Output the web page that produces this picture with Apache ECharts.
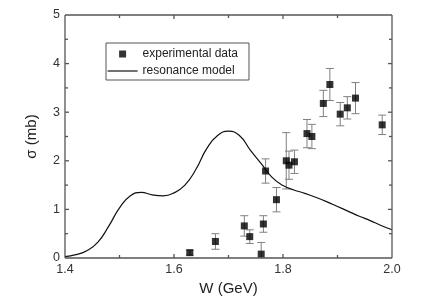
<!DOCTYPE html>
<html>
<head>
<meta charset="utf-8">
<script src="https://cdn.jsdelivr.net/npm/echarts@6/dist/echarts.min.js"></script>
<style>
html,body{margin:0;padding:0;background:#fff;}
#chart{width:436px;height:304px;}
</style>
</head>
<body>
<div id="chart"></div>
<script>
// Experimental data (W in GeV, sigma in mb, symmetric error in mb)
var expW     = [1.629, 1.676, 1.729, 1.739, 1.760, 1.764, 1.768, 1.788, 1.806, 1.811, 1.821, 1.844, 1.853, 1.874, 1.886, 1.905, 1.918, 1.933, 1.982];
var expSigma = [0.11, 0.34, 0.66, 0.44, 0.08, 0.70, 1.79, 1.20, 2.00, 1.91, 1.98, 2.56, 2.50, 3.18, 3.57, 2.96, 3.09, 3.29, 2.74];
var expErr   = [0.05, 0.16, 0.21, 0.14, 0.24, 0.17, 0.25, 0.25, 0.58, 0.29, 0.24, 0.29, 0.25, 0.27, 0.33, 0.24, 0.23, 0.32, 0.20];

// Resonance model curve
var modelW     = [1.40, 1.42, 1.44, 1.46, 1.48, 1.50, 1.52, 1.54, 1.56, 1.58, 1.60, 1.62, 1.64, 1.66, 1.68, 1.70, 1.72, 1.74, 1.76, 1.78, 1.80, 1.82, 1.84, 1.86, 1.88, 1.90, 1.92, 1.94, 1.96, 1.98, 2.00];
var modelSigma = [0.03, 0.07, 0.15, 0.32, 0.65, 1.03, 1.28, 1.35, 1.30, 1.28, 1.34, 1.50, 1.82, 2.25, 2.52, 2.61, 2.52, 2.22, 1.94, 1.66, 1.49, 1.40, 1.33, 1.25, 1.16, 1.06, 0.96, 0.86, 0.77, 0.67, 0.58];

// Axis ranges and tick positions
var xRange = [1.4, 2.0];
var yRange = [0, 5];
var xMajorTicks = [1.6, 1.8];
var xMinorTicks = [1.5, 1.7, 1.9];
var yMajorTicks = [1, 2, 3, 4];
var yMinorTicks = [0.5, 1.5, 2.5, 3.5, 4.5];

var seriesNames = ['experimental data', 'resonance model'];
var xTitle = 'W (GeV)';
var yTitle = 'σ (mb)';

var pts = expW.map(function (w, i) { return [w, expSigma[i]]; });
var errPts = expW.map(function (w, i) { return [w, expSigma[i], expErr[i]]; });
var curve = modelW.map(function (w, i) { return [w, modelSigma[i]]; });

var FONT = '"Liberation Sans", Arial, Helvetica, sans-serif';
var frameCol = '#555';

var chart = echarts.init(document.getElementById('chart'));
chart.setOption({
  animation: false,
  textStyle: { fontFamily: FONT },
  grid: { left: 65, right: 44, top: 15, bottom: 46 },
  xAxis: {
    type: 'value', min: xRange[0], max: xRange[1], interval: 0.2,
    name: xTitle, nameLocation: 'middle', nameGap: 19,
    nameTextStyle: { fontSize: 15, color: '#222', fontFamily: FONT },
    axisLine: { show: false }, axisTick: { show: false }, splitLine: { show: false },
    axisLabel: { fontSize: 12.5, color: '#333', fontFamily: FONT, margin: 5,
      formatter: function (v) { return v.toFixed(1); } }
  },
  yAxis: {
    type: 'value', min: yRange[0], max: yRange[1], interval: 1,
    name: yTitle, nameLocation: 'middle', nameGap: 26,
    nameTextStyle: { fontSize: 15, color: '#222', fontFamily: FONT },
    axisLine: { show: false }, axisTick: { show: false }, splitLine: { show: false },
    axisLabel: { fontSize: 12.5, color: '#333', fontFamily: FONT, margin: 5 }
  },
  legend: {
    left: 106, top: 43, orient: 'vertical',
    padding: [5, 11, 3, 1], itemGap: 5,
    itemWidth: 30, itemHeight: 7,
    borderColor: '#555', borderWidth: 1,
    textStyle: { fontSize: 12, color: '#222', fontFamily: FONT },
    data: [
      { name: seriesNames[0], icon: 'path://M0,0M30,7M11.5,0h7v7h-7z', itemStyle: { color: '#000' } },
      { name: seriesNames[1], itemStyle: { opacity: 0 }, lineStyle: { color: '#111', width: 1.2 } }
    ]
  },
  series: [
    {
      // plot frame with inward ticks, positioned through the axis scales
      type: 'custom', name: 'frame', z: 6, silent: true,
      data: [[xRange[0], yRange[0]]], encode: { x: 0, y: 1 },
      renderItem: function (params, api) {
        var p0 = api.coord([xRange[0], yRange[0]]);
        var p1 = api.coord([xRange[1], yRange[1]]);
        var L = p0[0], B = p0[1], R = p1[0], T = p1[1];
        var st = { stroke: frameCol, lineWidth: 1.3 };
        function ln(x1, y1, x2, y2) { return { type: 'line', shape: { x1: x1, y1: y1, x2: x2, y2: y2 }, style: st }; }
        var ch = [ln(L, B, R, B), ln(R, B, R, T), ln(R, T, L, T), ln(L, T, L, B)];
        function xt(v, len) { var x = api.coord([v, yRange[0]])[0]; ch.push(ln(x, B, x, B - len)); ch.push(ln(x, T, x, T + len)); }
        function yt(v, len) { var y = api.coord([xRange[0], v])[1]; ch.push(ln(L, y, L + len, y)); ch.push(ln(R, y, R - len, y)); }
        xMajorTicks.forEach(function (v) { xt(v, 4); });
        xMinorTicks.forEach(function (v) { xt(v, 3); });
        yMajorTicks.forEach(function (v) { yt(v, 4); });
        yMinorTicks.forEach(function (v) { yt(v, 3); });
        return { type: 'group', children: ch };
      }
    },
    {
      type: 'custom', name: 'errors', z: 2,
      data: errPts, encode: { x: 0, y: 1 },
      renderItem: function (params, api) {
        var x = api.value(0), y = api.value(1), e = api.value(2);
        var lo = y - e;
        var top = api.coord([x, y + e]);
        var bot = api.coord([x, Math.max(0, lo)]);
        var hw = 4;
        var st = { stroke: '#808080', lineWidth: 1 };
        var ch = [
          { type: 'line', shape: { x1: top[0], y1: top[1], x2: bot[0], y2: bot[1] }, style: st },
          { type: 'line', shape: { x1: top[0] - hw, y1: top[1], x2: top[0] + hw, y2: top[1] }, style: st }
        ];
        if (lo > 0) {
          ch.push({ type: 'line', shape: { x1: bot[0] - hw, y1: bot[1], x2: bot[0] + hw, y2: bot[1] }, style: st });
        }
        return { type: 'group', children: ch };
      }
    },
    {
      type: 'line', name: seriesNames[1], data: curve, smooth: 0.5,
      symbol: 'none', showSymbol: false, z: 3,
      lineStyle: { color: '#111', width: 1.2 }, itemStyle: { color: '#111' }
    },
    {
      type: 'scatter', name: seriesNames[0], data: pts, symbol: 'rect', symbolSize: 7, z: 4,
      itemStyle: { color: '#000' }
    }
  ]
});
</script>
</body>
</html>
